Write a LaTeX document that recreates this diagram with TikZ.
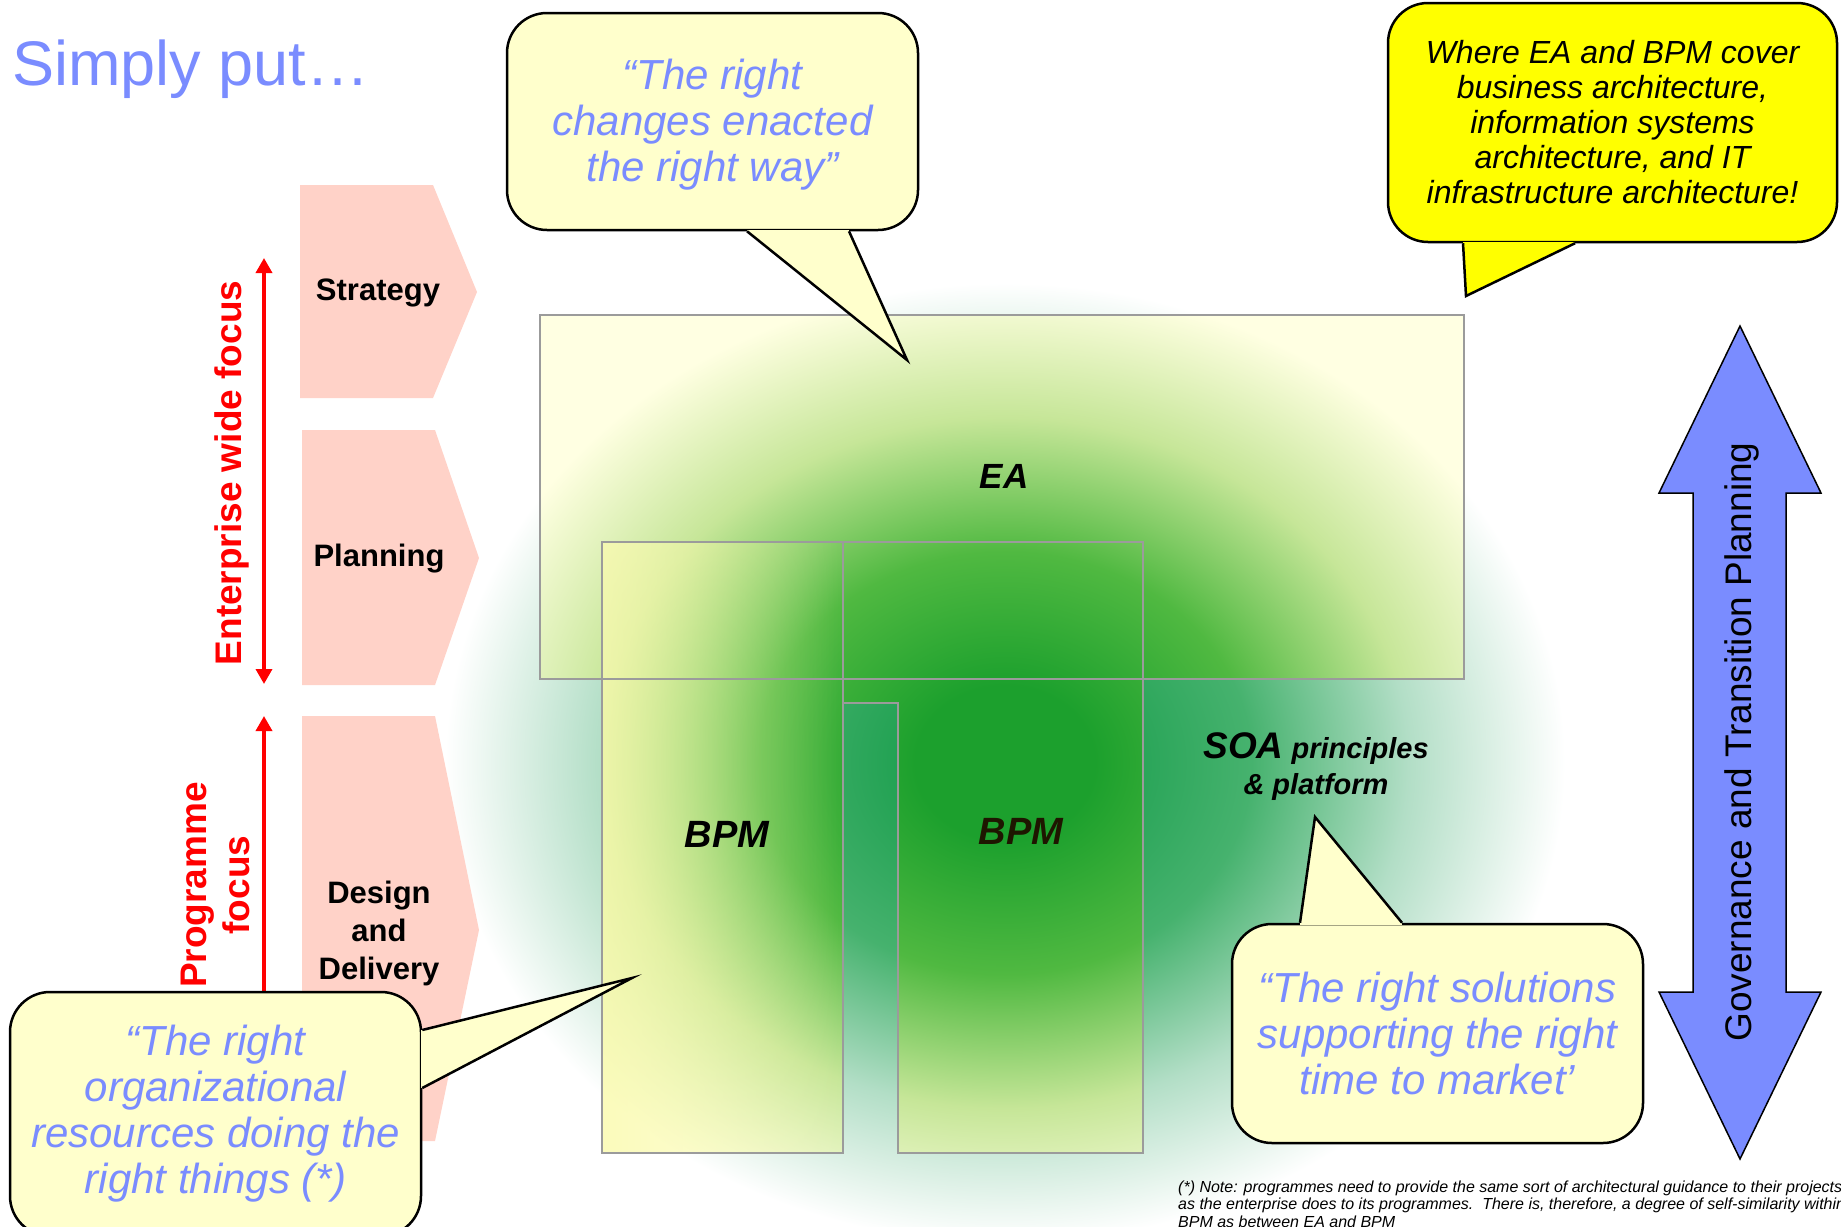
\documentclass[tikz,border=0pt]{standalone}
\usepackage{fontspec}
\setmainfont{Liberation Sans}
\usetikzlibrary{arrows.meta,fadings}

\definecolor{quoteblue}{RGB}{122,140,255}
\definecolor{paleyellow}{RGB}{255,255,204}
\definecolor{calloutyellow}{RGB}{255,255,0}
\definecolor{chevpink}{RGB}{255,210,200}
\definecolor{zonegray}{RGB}{155,155,155}
\definecolor{zoneyellow}{RGB}{255,255,226}
\definecolor{bpmyellow}{RGB}{250,250,175}
\definecolor{darkbrown}{RGB}{30,22,0}
\definecolor{glowteal}{RGB}{30,160,80}
\definecolor{glowtealmid}{RGB}{70,178,110}
\definecolor{glowteallight}{RGB}{178,222,198}
\definecolor{glowgreen}{RGB}{28,160,45}
\definecolor{glowgreenmid}{RGB}{80,185,65}
\definecolor{glowgreenlight}{RGB}{198,230,152}

\pgfdeclareradialshading{glowout}{\pgfpoint{0bp}{0bp}}{%
  color(0bp)=(glowteal); color(4bp)=(glowteal); color(11bp)=(glowtealmid);
  color(18bp)=(glowteallight); color(25bp)=(white); color(50bp)=(white)}
\pgfdeclareradialshading{glowin}{\pgfpoint{0bp}{0bp}}{%
  color(0bp)=(glowgreen); color(4bp)=(glowgreen); color(11bp)=(glowgreenmid);
  color(18bp)=(glowgreenlight); color(25bp)=(zoneyellow); color(50bp)=(zoneyellow)}
\tikzfading[name=fadebpm, left color=transparent!25, right color=transparent!100]

% pointer of a speech bubble: fill, base point, tip, base point
\newcommand\bubbletip[4]{%
  \fill[#1] (#2) -- (#3) -- (#4) -- cycle;
  \draw[#1, line width=3.5pt] (#2) -- (#4);
  \draw[line width=2.5pt] (#2) -- (#3) -- (#4);}

\begin{document}
\begin{tikzpicture}[x=1pt,y=-1pt,
    bubble/.style={draw, line width=2.5pt, fill=paleyellow, rounded corners=40pt,
      inner sep=0pt, align=center, text=quoteblue,
      font=\itshape\fontsize{42}{46}\selectfont},
    chevlabel/.style={align=center, font=\bfseries\fontsize{31}{38}\selectfont},
    focuslabel/.style={rotate=90, align=center, text=red,
      font=\bfseries\fontsize{37}{43}\selectfont},
    focusarrow/.style={red, line width=3.5pt,
      {Triangle[width=16pt,length=15pt]}-{Triangle[width=16pt,length=15pt]}},
    zone/.style={draw=zonegray, line width=2.8pt},
    zonelabel/.style={font=\bfseries\itshape\fontsize{38}{44}\selectfont}]
  \fill[white] (0,0) rectangle (1841,1226);
  \useasboundingbox (0,0) rectangle (1841,1226);

  % glow
  \shade[shading=glowout] (1005,763) ellipse [x radius=560, y radius=480];

  \node[anchor=base west, inner sep=0pt, text=quoteblue,
    font=\fontsize{63}{70}\selectfont] (title) at (12,85) {Simply put…};

  % phases
  \fill[chevpink] (300,185) -- (433,185) -- (477,292) -- (433,398) -- (300,398) -- cycle;
  \fill[chevpink] (302,430) -- (435,430) -- (479,558) -- (435,685) -- (302,685) -- cycle;
  \fill[chevpink] (302,716) -- (435,716) -- (479,930) -- (435,1141) -- (302,1141) -- cycle;
  \node[chevlabel] (strategy) at (378,293) {Strategy};
  \node[chevlabel] (planning) at (379,559) {Planning};
  \node[chevlabel] (design) at (379,933) {Design\\and\\Delivery};

  \coordinate (ewtop) at (264,258);
  \coordinate (ewbot) at (264,684);
  \coordinate (pgtop) at (264,716);
  \coordinate (pgbot) at (264,1141);
  \draw[focusarrow] (ewtop) -- (ewbot);
  \draw[focusarrow] (pgtop) -- (pgbot);
  \node[focuslabel] (enterprise) at (232,473) {Enterprise wide focus};
  \node[focuslabel] (programme) at (215,885) {Programme\\focus};

  % zones
  \fill[zoneyellow] (540,315) rectangle (1464,679) (602,542) rectangle (843,1153)
    (843,542) -- (843,703) -- (898,703) -- (898,1153) -- (1143,1153) -- (1143,542) -- cycle;
  \begin{scope}
    \clip (540,315) rectangle (1464,679) (602,542) rectangle (843,1153)
      (843,542) -- (843,703) -- (898,703) -- (898,1153) -- (1143,1153) -- (1143,542) -- cycle;
    \shade[shading=glowin] (1005,763) ellipse [x radius=560, y radius=480];
  \end{scope}
  \fill[bpmyellow, path fading=fadebpm] (602,542) rectangle (843,1153);
  \draw[zone] (540,315) rectangle (1464,679);
  \draw[zone] (602,542) rectangle (843,1153);
  \draw[zone] (843,542) -- (843,703) -- (898,703) -- (898,1153) -- (1143,1153) -- (1143,542) -- cycle;

  \node[zonelabel, font=\bfseries\itshape\fontsize{35}{40}\selectfont] (ea) at (1004,476) {EA};
  \node[zonelabel] (bpmleft) at (727,834) {BPM};
  \node[zonelabel, text=darkbrown] (bpmright) at (1021,831) {BPM};
  \node[align=center, font=\bfseries\itshape\fontsize{29}{36}\selectfont] (soa) at (1316,767)
    {{\fontsize{37}{36}\selectfont SOA} principles\\\& platform};

  % governance arrow
  \draw[line width=1.5pt, fill=quoteblue] (1740,326) -- (1821,493) -- (1786,493) -- (1786,992)
    -- (1821,992) -- (1740,1159) -- (1659,992) -- (1693,992) -- (1693,493) -- (1659,493) -- cycle;
  \node[rotate=90, font=\fontsize{37}{40}\selectfont] (governance) at (1742,742)
    {Governance and Transition Planning};

  % speech bubbles
  \node[bubble, minimum width=411pt, minimum height=217pt] (changes) at (712.5,121.5)
    {\rule{0pt}{36pt}“The right\\changes enacted\\the right way”};
  \coordinate (changestip) at (907,360);
  \bubbletip{paleyellow}{[xshift=34.5pt]changes.south}{changestip}{[xshift=136.5pt]changes.south}

  \node[bubble, fill=calloutyellow, text=black, font=\itshape\fontsize{32}{35}\selectfont,
    minimum width=449pt, minimum height=239pt] (coverage) at (1612.5,122.5)
    {Where EA and BPM cover\\business architecture,\\information systems\\architecture, and IT\\infrastructure architecture!};
  \coordinate (coveragetip) at (1466,296);
  \bubbletip{calloutyellow}{[xshift=-149.5pt]coverage.south}{coveragetip}{[xshift=-37.5pt]coverage.south}

  \node[bubble, minimum width=411pt, minimum height=219pt] (solutions) at (1437.5,1033.5)
    {“The right solutions\\supporting the right\\time to market’};
  \coordinate (solutionstip) at (1315,817);
  \bubbletip{paleyellow}{[xshift=-137.5pt]solutions.north}{solutionstip}{[xshift=-35.5pt]solutions.north}

  \node[bubble, minimum width=411pt, minimum height=244pt] (resources) at (215.5,1114)
    {“The right\\organizational\\resources doing the\\right things (*)};
  \coordinate (resourcestip) at (632,978);
  \bubbletip{paleyellow}{[yshift=84pt]resources.east}{resourcestip}{[yshift=26pt]resources.east}

  \node[anchor=base west, align=left, inner sep=0pt,
    font=\itshape\fontsize{16}{17.5}\selectfont] (note) at (1178,1227)
    {(*) Note: programmes need to provide the same sort of architectural guidance to their projects\\
     as the enterprise does to its programmes.\ \ There is, therefore, a degree of self-similarity within\\
     BPM as between EA and BPM};
\end{tikzpicture}
\end{document}
